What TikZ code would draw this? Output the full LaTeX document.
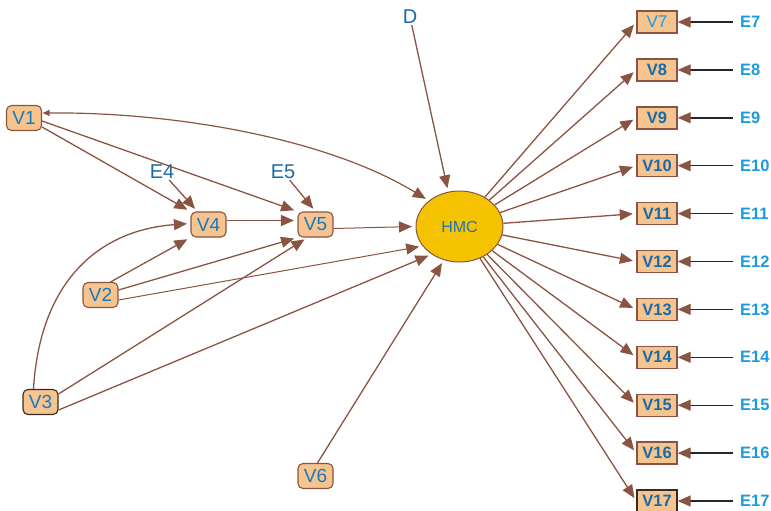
\documentclass[tikz,border=0pt]{standalone}
\usepackage{fontspec}
\setmainfont{Liberation Sans}
\usetikzlibrary{arrows.meta,shapes.geometric}
\definecolor{boxfill}{HTML}{F6C48F}
\definecolor{brn}{HTML}{8B5442}
\definecolor{gold}{HTML}{F5C200}
\definecolor{vblue}{HTML}{1878BE}
\definecolor{dblue}{HTML}{1A6AA6}
\definecolor{lblue}{HTML}{1A9BDF}
\definecolor{darkedge}{HTML}{3A2A20}
\begin{document}
\begin{tikzpicture}[x=1pt,y=-1pt,
  rbox/.style={draw=brn,fill=boxfill,rounded corners=5pt,line width=1.1pt,minimum width=35pt,minimum height=25pt,inner sep=0pt,text=vblue,font=\fontsize{19}{19}\selectfont},
  sbox/.style={draw=brn,fill=boxfill,line width=1.4pt,minimum width=40pt,minimum height=22pt,inner sep=0pt,text=dblue,font=\fontsize{16.5}{16.5}\selectfont\bfseries},
  elab/.style={anchor=west,inner sep=0pt,text=lblue,font=\fontsize{16.5}{16.5}\selectfont\bfseries},
  errlab/.style={inner sep=1pt,text=dblue,font=\fontsize{20}{20}\selectfont},
  arr/.style={draw=brn,line width=1.3pt,-{Triangle[length=13pt,width=11pt]},shorten >=3.5pt},
  thin arr/.style={arr,line width=1pt},
  earr/.style={draw=black!85,line width=1.4pt,-{Triangle[length=13pt,width=11pt,color=brn]}},
]
\useasboundingbox (0,0) rectangle (771,511);
% left nodes
\node[rbox] (V1) at (24,118) {V1};
\node[rbox] (V2) at (100.5,295) {V2};
\node[rbox,draw=darkedge] (V3) at (40.5,402) {V3};
\node[rbox] (V4) at (208.5,224.5) {V4};
\node[rbox] (V5) at (315.5,224.5) {V5};
\node[rbox] (V6) at (315.5,476) {V6};
\node[errlab] (E4) at (162,172) {E4};
\node[errlab] (E5) at (283,172) {E5};
\node[errlab] (D) at (410,17) {D};
\node[draw=brn,fill=gold,ellipse,minimum width=87pt,minimum height=71pt,inner sep=0pt,line width=1pt,text=vblue,font=\fontsize{16}{16}\selectfont] (HMC) at (459.5,226.5) {HMC};
% right nodes
\node[sbox,text=lblue,font=\fontsize{17}{17}\selectfont] (V7) at (657,22) {V7};
\node[elab] (E7) at (740,22) {E7};
\draw[earr] ([xshift=-7pt]E7.west) -- (V7.east);
\draw[arr] (HMC) -- (V7.west);
\foreach \i in {8,...,17}{
  \pgfmathsetmacro\yy{22+47.9*(\i-7)}
  \ifnum\i=17
    \node[sbox,draw=darkedge] (V\i) at (657,\yy) {V\i};
  \else
    \node[sbox] (V\i) at (657,\yy) {V\i};
  \fi
  \node[elab] (E\i) at (740,\yy) {E\i};
  \draw[earr] ([xshift=-7pt]E\i.west) -- (V\i.east);
  \draw[arr] (HMC) -- (V\i.west);
}
% left connectors
\draw[draw=brn,line width=1.2pt,{Triangle[length=7pt,width=6pt]}-{Triangle[length=13pt,width=11pt]},shorten >=3.5pt,shorten <=0.5pt]
  ([yshift=5pt]V1.east) .. controls (180,112) and (330,140) .. (HMC.140);
\draw[arr] ([yshift=-3pt]V1.east) -- (V5.north west);
\draw[arr] ([yshift=-9pt]V1.east) -- (V4.north west);
\draw[arr] (E4) -- ([xshift=7pt]V4.north west);
\draw[arr] (E5) -- (V5.north);
\draw[arr] ([yshift=4pt]V4.east) -- ([yshift=4pt]V5.west);
\draw[thin arr] ([yshift=-4pt]V5.east) -- (HMC.west);
\draw[arr] ([xshift=-8pt]V2.north east) -- (V4.south west);
\draw[arr] ([yshift=5pt]V2.east) -- (V5.south west);
\draw[thin arr] ([yshift=-5pt]V2.east) -- (HMC.208);
\draw[arr] ([xshift=-7pt]V3.north) .. controls (40,280) and (100,230) .. ([yshift=1pt]V4.west);
\draw[arr] ([yshift=-5pt]V3.north east) -- ([xshift=-8pt]V5.south);
\draw[arr] ([yshift=5pt]V3.south east) -- (HMC.225);
\draw[arr] ([xshift=2pt]V6.north) -- (HMC.245);
\draw[arr] (D) -- (HMC.108);
\end{tikzpicture}
\end{document}
